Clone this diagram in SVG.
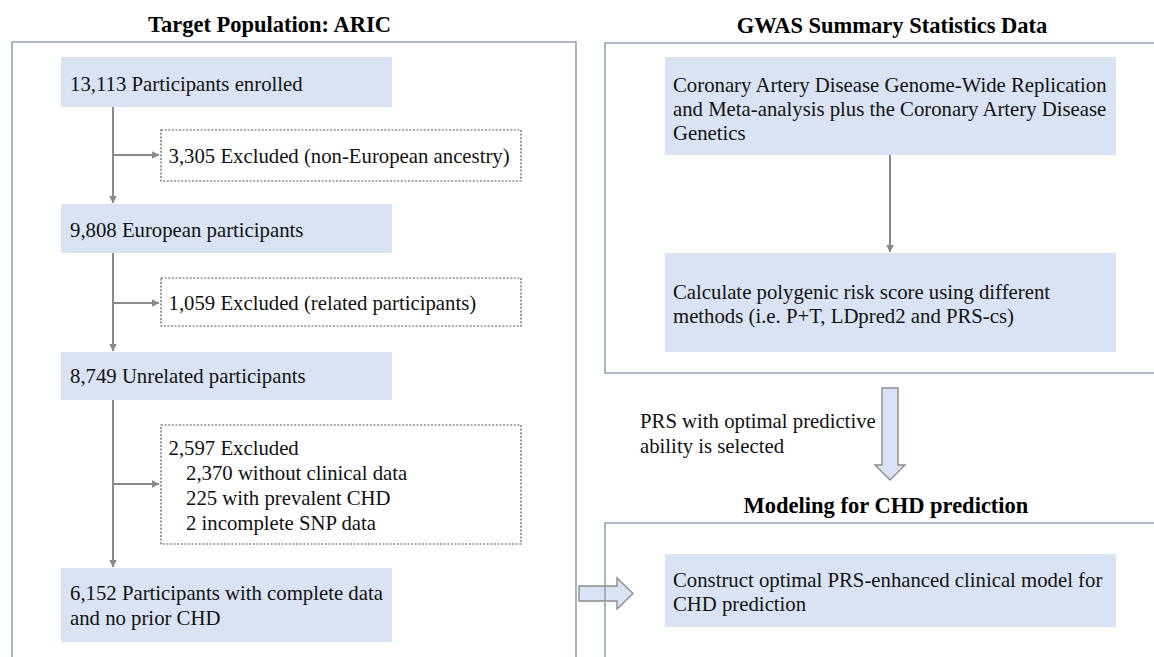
<svg xmlns="http://www.w3.org/2000/svg" width="1154" height="657" viewBox="0 0 1154 657">
  <style>
    .title { font-family: "Liberation Serif", "Times New Roman", serif; font-weight: bold; font-size: 22.5px; fill: #000; text-anchor: middle; }
    .txt { font-family: "Liberation Serif", "Times New Roman", serif; font-size: 20.75px; fill: #111; }
    .panel { fill: none; stroke: #97a2b4; stroke-width: 1.6; }
    .node { fill: #dae3f3; stroke: none; }
    .excl { fill: #fff; stroke: #555; stroke-width: 1.2; stroke-dasharray: 2 1.6; }
    .conn { fill: none; stroke: #8a8a8a; stroke-width: 2; }
    .block { fill: #dae3f3; stroke: #8c8c8c; stroke-width: 1.4; stroke-linejoin: miter; }
  </style>
  <defs>
    <marker id="arrow" viewBox="0 0 8 8" refX="7.5" refY="4" markerWidth="4" markerHeight="4" markerUnits="strokeWidth" orient="auto">
      <path d="M0,0 L8,4 L0,8 z" fill="#8a8a8a"/>
    </marker>
  </defs>

  <rect width="1154" height="657" fill="#fff"/>

  <!-- Section titles -->
  <text class="title" x="269.5" y="32">Target Population: ARIC</text>
  <text class="title" x="892" y="33">GWAS Summary Statistics Data</text>
  <text class="title" x="886" y="513">Modeling for CHD prediction</text>

  <!-- Block arrows (drawn under the panel frames) -->
  <g id="block-arrows">
    <path class="block" d="M882,388 L898,388 L898,465 L905,465 L890,480 L875,465 L882,465 Z"/>
    <path class="block" d="M579,586 L617,586 L617,578 L633,593.5 L617,609 L617,601 L579,601 Z"/>
  </g>

  <!-- Panel frames -->
  <g id="panels">
    <path class="panel" d="M12,662 L12,42 L576,42 L576,662"/>
    <path class="panel" d="M1160,43 L605,43 L605,373 L1160,373"/>
    <path class="panel" d="M1160,523 L605,523 L605,662"/>
  </g>

  <!-- Connectors -->
  <g id="connectors">
    <line class="conn" x1="113" y1="107" x2="113" y2="203" marker-end="url(#arrow)"/>
    <line class="conn" x1="113" y1="155" x2="159" y2="155" marker-end="url(#arrow)"/>
    <line class="conn" x1="113" y1="253" x2="113" y2="351" marker-end="url(#arrow)"/>
    <line class="conn" x1="113" y1="303" x2="159" y2="303" marker-end="url(#arrow)"/>
    <line class="conn" x1="113" y1="400" x2="113" y2="567" marker-end="url(#arrow)"/>
    <line class="conn" x1="113" y1="484" x2="159" y2="484" marker-end="url(#arrow)"/>
    <line class="conn" x1="890" y1="155" x2="890" y2="252" marker-end="url(#arrow)"/>
  </g>

  <!-- ARIC cohort flow -->
  <g id="enrolled">
    <rect class="node" x="61" y="57" width="331" height="50"/>
    <text class="txt" x="70" y="91">13,113 Participants enrolled</text>
  </g>
  <g id="excl-ancestry">
    <rect class="excl" x="161" y="130" width="360" height="51"/>
    <text class="txt" x="168.5" y="163">3,305 Excluded (non-European ancestry)</text>
  </g>
  <g id="european">
    <rect class="node" x="61" y="204" width="331" height="49"/>
    <text class="txt" x="70" y="237">9,808 European participants</text>
  </g>
  <g id="excl-related">
    <rect class="excl" x="161" y="278" width="360" height="48"/>
    <text class="txt" x="168.5" y="310">1,059 Excluded (related participants)</text>
  </g>
  <g id="unrelated">
    <rect class="node" x="61" y="352" width="331" height="48"/>
    <text class="txt" x="70" y="383">8,749 Unrelated participants</text>
  </g>
  <g id="excl-other">
    <rect class="excl" x="161" y="425" width="360" height="119"/>
    <text class="txt" x="168.5" y="455">2,597 Excluded</text>
    <text class="txt" x="186" y="480">2,370 without clinical data</text>
    <text class="txt" x="186" y="505">225 with prevalent CHD</text>
    <text class="txt" x="186" y="530">2 incomplete SNP data</text>
  </g>
  <g id="final-cohort">
    <rect class="node" x="61" y="568" width="331" height="74"/>
    <text class="txt" x="70" y="600">6,152 Participants with complete data</text>
    <text class="txt" x="70" y="625">and no prior CHD</text>
  </g>

  <!-- GWAS summary statistics -->
  <g id="gwas-source">
    <rect class="node" x="665" y="57" width="451" height="98"/>
    <text class="txt" x="673" y="92">Coronary Artery Disease Genome-Wide Replication</text>
    <text class="txt" x="673" y="116">and Meta-analysis plus the Coronary Artery Disease</text>
    <text class="txt" x="673" y="140">Genetics</text>
  </g>
  <g id="prs-calc">
    <rect class="node" x="665" y="253" width="451" height="99"/>
    <text class="txt" x="673" y="299">Calculate polygenic risk score using different</text>
    <text class="txt" x="673" y="323">methods (i.e. P+T, LDpred2 and PRS-cs)</text>
  </g>

  <!-- Selection label -->
  <g id="selection-label">
    <text class="txt" x="640" y="428">PRS with optimal predictive</text>
    <text class="txt" x="640" y="453">ability is selected</text>
  </g>

  <!-- Modeling -->
  <g id="model">
    <rect class="node" x="665" y="554" width="451" height="73"/>
    <text class="txt" x="673" y="587">Construct optimal PRS-enhanced clinical model for</text>
    <text class="txt" x="673" y="611">CHD prediction</text>
  </g>
</svg>
